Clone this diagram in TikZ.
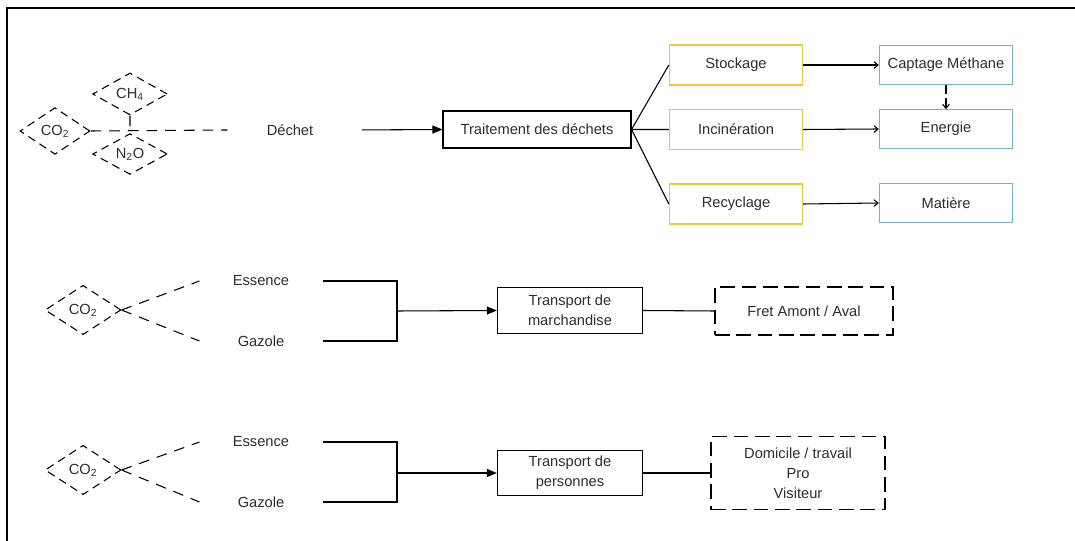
\documentclass[tikz,border=0pt]{standalone}
\usepackage{fontspec}
\setmainfont{Liberation Sans}
\usetikzlibrary{shapes.geometric,arrows.meta}
\definecolor{boxyellow}{RGB}{238,200,60}
\definecolor{boxcyan}{RGB}{115,178,200}
\definecolor{inkgray}{RGB}{45,45,45}

\begin{document}
\begin{tikzpicture}[x=0.75pt,y=-0.75pt,line width=0.8pt,
        font=\fontsize{11}{15}\selectfont,text=inkgray,
        gas/.style={draw,diamond,dash pattern=on 6pt off 4pt,inner sep=0pt,minimum width=57pt,minimum height=37pt},
        plain/.style={minimum height=24pt,inner sep=0pt},
        blackbox/.style={draw,minimum width=109pt,minimum height=34pt,align=center,inner sep=1pt},
        yellowbox/.style={draw=boxyellow,minimum width=100pt,minimum height=30pt},
        cyanbox/.style={draw=boxcyan,minimum width=100pt,minimum height=29pt},
        endbox/.style={draw,dash pattern=on 11pt off 5pt,align=center},
        fill arrow/.style={-{Triangle[length=7.5pt,width=6pt]}},
        thin arrow/.style={-{Straight Barb[length=3pt,width=5pt]}}]
        \useasboundingbox (0,0) rectangle (1075,541);
        %frame
        \draw[line width=1.3pt] (7,541) -- (7,8) -- (1075,8);

        %dechets
        \node[gas,minimum width=52.5pt,minimum height=35pt] (co2a) at (55,131){CO\textsubscript{2}};
        \node[gas,minimum width=56pt,minimum height=31.5pt] (ch4) at (130,94){CH\textsubscript{4}};
        \node[gas,minimum width=56pt,minimum height=28pt] (n2o) at (130,154){N\textsubscript{2}O};
        \node[plain,minimum width=93pt] (dechet) at (290,130){Déchet};
        \node[draw,minimum width=141pt,minimum height=27.75pt] (trait) at (537,129.5){Traitement des déchets};
        \node[yellowbox] (stock) at (736,65){Stockage};
        \node[yellowbox] (incin) at (736,129.5){Incinération};
        \node[yellowbox] (recyc) at (736,204){Recyclage};
        \node[cyanbox] (capt) at (946,65){Captage Méthane};
        \node[cyanbox] (energ) at (946,129){Energie};
        \node[cyanbox] (mat) at (946,203){Matière};
        \draw[dash pattern=on 8pt off 6pt] (co2a.east) -- (dechet.west) (ch4.south) -- (n2o.north);
        \draw[fill arrow,shorten <=7pt] (dechet.east) -- (trait.west);
        \draw (trait.east) -- (stock.west) (trait.east) -- (incin.west) (trait.east) -- (recyc.west);
        \draw[thin arrow] (stock.east) -- (capt.west);
        \draw[thin arrow] (incin.east) -- (energ.west);
        \draw[thin arrow] (recyc.east) -- (mat.west);
        \draw[thin arrow,dash pattern=on 7pt off 3pt] (capt.south) -- (energ.north);

        %marchandise
        \node[gas] (co2b) at (83,310){CO\textsubscript{2}};
        \node[plain,minimum width=91.5pt] (ess1) at (261,281){Essence};
        \node[plain,minimum width=91.5pt] (gaz1) at (261,341){Gazole};
        \coordinate (fork1) at (397,311);
        \node[blackbox] (tm) at (570,310.5){Transport de\\marchandise};
        \node[endbox,minimum width=133.5pt,minimum height=36pt] (fret) at (804,311){Fret Amont / Aval};
        \draw[dash pattern=on 8pt off 6pt] (co2b.east) -- (ess1.west) (co2b.east) -- (gaz1.west);
        \draw (ess1.east) -| (fork1) (gaz1.east) -| (fork1);
        \draw[fill arrow] (fork1) -- (tm.west);
        \draw (tm.east) -- (fret.west);

        %personnes
        \node[gas] (co2c) at (83,470){CO\textsubscript{2}};
        \node[plain,minimum width=91.5pt] (ess2) at (261,442){Essence};
        \node[plain,minimum width=91.5pt] (gaz2) at (261,502){Gazole};
        \coordinate (fork2) at (397,473);
        \node[blackbox] (tp) at (570,473){Transport de\\personnes};
        \node[endbox,minimum width=130.5pt,minimum height=55pt] (dom) at (798,473){Domicile / travail\\Pro\\Visiteur};
        \draw[dash pattern=on 8pt off 6pt] (co2c.east) -- (ess2.west) (co2c.east) -- (gaz2.west);
        \draw (ess2.east) -| (fork2) (gaz2.east) -| (fork2);
        \draw[fill arrow] (fork2) -- (tp.west);
        \draw (tp.east) -- (dom.west);
\end{tikzpicture}
\end{document}
